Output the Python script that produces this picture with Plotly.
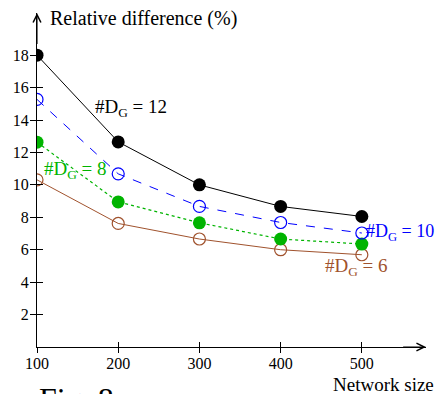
import plotly.graph_objects as go

network_size = [100, 200, 300, 400, 500]
dg12 = [18.0, 12.65, 10.0, 8.67, 8.05]
dg10 = [15.27, 10.68, 8.67, 7.68, 7.03]
dg8 = [12.63, 8.95, 7.66, 6.66, 6.35]
dg6 = [10.31, 7.62, 6.66, 6.0, 5.69]

x_ticks = [100, 200, 300, 400, 500]
y_ticks = [2, 4, 6, 8, 10, 12, 14, 16, 18]

FONT = "Times New Roman, Liberation Serif, serif"
BLACK = "#000000"
BLUE = "#0000ff"
GREEN = "#00b400"
BROWN = "#a0522d"

fig = go.Figure()

fig.add_trace(go.Scatter(x=network_size, y=dg6, mode="lines+markers",
                         line=dict(color=BROWN, width=1),
                         marker=dict(symbol="circle-open", size=12, color=BROWN, line=dict(width=1.2)),
                         showlegend=False))
fig.add_trace(go.Scatter(x=network_size, y=dg8, mode="lines+markers",
                         line=dict(color=GREEN, width=1.2, dash="dot"),
                         marker=dict(symbol="circle", size=13, color=GREEN),
                         showlegend=False))
fig.add_trace(go.Scatter(x=network_size, y=dg10, mode="lines+markers",
                         line=dict(color=BLUE, width=1, dash="dash"),
                         marker=dict(symbol="circle-open", size=12, color=BLUE, line=dict(width=1.2)),
                         showlegend=False))
fig.add_trace(go.Scatter(x=network_size, y=dg12, mode="lines+markers",
                         line=dict(color=BLACK, width=1),
                         marker=dict(symbol="circle", size=13, color=BLACK),
                         showlegend=False))

xr = [100, 579]
yr = [0, 20.6]

fig.update_layout(
    width=439, height=394,
    margin=dict(l=37, r=13, t=13, b=46.5),
    paper_bgcolor="white", plot_bgcolor="white",
    font=dict(family=FONT, size=16, color="black"),
    xaxis=dict(range=xr, tickvals=x_ticks, ticktext=[str(v) for v in x_ticks],
               showgrid=False, zeroline=False, showline=True, linecolor="black", linewidth=1.2,
               ticks="outside", ticklen=5, tickwidth=1, tickcolor="black", automargin=False,
               tickfont=dict(family=FONT, size=16), ticklabelstandoff=-3),
    yaxis=dict(range=yr, tickvals=y_ticks, ticktext=[str(v) for v in y_ticks],
               showgrid=False, zeroline=False, showline=True, linecolor="black", linewidth=1.2,
               ticks="outside", ticklen=6, tickwidth=1, tickcolor="black", automargin=False,
               tickfont=dict(family=FONT, size=16), ticklabelstandoff=-2),
    xaxis2=dict(range=xr, overlaying="x", matches="x", tickvals=x_ticks, showticklabels=False,
                showgrid=False, zeroline=False, showline=False, automargin=False,
                ticks="inside", ticklen=5, tickwidth=1, tickcolor="black"),
    yaxis2=dict(range=yr, overlaying="y", matches="y", tickvals=y_ticks, showticklabels=False,
                showgrid=False, zeroline=False, showline=False, automargin=False,
                ticks="inside", ticklen=6, tickwidth=1, tickcolor="black"),
)

# dummy trace to activate overlay axes
fig.add_trace(go.Scatter(x=[None], y=[None], xaxis="x2", yaxis="y2", showlegend=False, hoverinfo="skip"))

annotations = [
    # axis arrows
    dict(x=xr[1], y=0, ax=xr[1] - 30, ay=0, xref="x", yref="y", axref="x", ayref="y",
         showarrow=True, arrowhead=5, arrowsize=1.4, arrowwidth=1.1, arrowcolor="black", text=""),
    dict(x=100, y=yr[1], ax=100, ay=yr[1] - 2, xref="x", yref="y", axref="x", ayref="y",
         showarrow=True, arrowhead=5, arrowsize=1.4, arrowwidth=1.1, arrowcolor="black", text=""),
    # titles
    dict(text="Relative difference (%)", x=0.0283, y=0.985, xref="paper", yref="paper",
         xanchor="left", yanchor="middle", showarrow=False, font=dict(family=FONT, size=20)),
    dict(text="Network size", x=1.026, y=-0.112, xref="paper", yref="paper",
         xanchor="right", yanchor="middle", showarrow=False, font=dict(family=FONT, size=19)),
    dict(text="Fig. 8", x=0.0, y=-0.0954, xref="paper", yref="paper",
         xanchor="left", yanchor="top", showarrow=False, font=dict(family=FONT, size=32)),
    # series labels
    dict(text="#D<sub>G</sub> = 12", x=215.7, y=14.74, xref="x", yref="y", xanchor="center",
         yanchor="middle", showarrow=False, font=dict(family=FONT, size=19, color=BLACK)),
    dict(text="#D<sub>G</sub> = 8", x=106, y=10.92, xref="x", yref="y", xanchor="left",
         yanchor="middle", showarrow=False, font=dict(family=FONT, size=19, color=GREEN)),
    dict(text="#D<sub>G</sub> = 10", x=503, y=7.05, xref="x", yref="y", xanchor="left",
         yanchor="middle", showarrow=False, font=dict(family=FONT, size=18, color=BLUE)),
    dict(text="#D<sub>G</sub> = 6", x=452, y=4.95, xref="x", yref="y", xanchor="left",
         yanchor="middle", showarrow=False, font=dict(family=FONT, size=19, color=BROWN)),
]
fig.update_layout(annotations=annotations)

fig.write_html("out.html", config={"displayModeBar": False},
               post_script="document.body.style.margin='0';")
